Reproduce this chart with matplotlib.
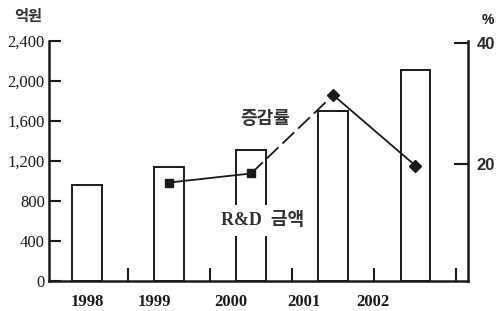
import numpy as np
import matplotlib.pyplot as plt

# data
years = ['1998', '1999', '2000', '2001', '2002']
rnd_amount = [965, 1145, 1315, 1700, 2110]          # 억원, bars
rate_years = [1, 2, 3, 4]                            # index into years
rate_pct = [17.0, 18.5, 31.4, 19.8]                  # %, line
left_ticks = [0, 400, 800, 1200, 1600, 2000, 2400]
right_ticks = [20, 40]

# year labels in the scan sit left of the bars
label_x = [0.0, 0.82, 1.755, 2.64, 3.48]

ink = '#1a1a1a'
serif = 'Liberation Serif'
kr = ['Noto Sans CJK KR', 'DejaVu Sans']

fig = plt.figure(figsize=(4.99, 3.11), dpi=100)
ax = fig.add_axes([49 / 499, 30 / 311, 419 / 499, 240 / 311])
x = np.arange(len(years))

ax.bar(x, rnd_amount, width=0.36, facecolor='white', edgecolor=ink, linewidth=1.4, zorder=2)
ax.set_xlim(-0.462, 4.642)
ax.set_ylim(0, 2400)

ax.set_yticks(left_ticks)
ax.set_yticklabels([f'{v:,}' for v in left_ticks], fontfamily=serif, fontsize=12)
ax.tick_params(axis='y', direction='in', length=8.5, width=1.5, color=ink, pad=3, labelcolor=ink)

ax.set_xticks(label_x)
ax.set_xticklabels(years, fontfamily=serif, fontsize=12, fontweight='bold')
ax.tick_params(axis='x', which='major', length=0, pad=9, labelcolor=ink)
ax.set_xticks(x + 0.5, minor=True)
ax.tick_params(axis='x', which='minor', direction='in', length=9.5, width=1.5, color=ink)

for s in ['left', 'bottom']:
    ax.spines[s].set_linewidth(1.8)
    ax.spines[s].set_color(ink)
ax.spines['top'].set_visible(False)
ax.spines['right'].set_visible(False)

ax2 = ax.twinx()
ax2.set_ylim(0.8, 40.3)
ax2.set_yticks(right_ticks)
ax2.set_yticklabels([str(v) for v in right_ticks], fontfamily='Liberation Sans',
                    fontsize=12, fontweight='bold')
ax2.tick_params(axis='y', direction='in', length=10, width=1.5, color=ink, pad=6, labelcolor='#2a2a2a')
for s in ['left', 'top', 'bottom']:
    ax2.spines[s].set_visible(False)
ax2.spines['right'].set_linewidth(1.8)
ax2.spines['right'].set_color(ink)

rx = x[rate_years]
ax2.plot(rx[0:2], rate_pct[0:2], color=ink, lw=1.3, zorder=3)
ax2.plot(rx[1:3], rate_pct[1:3], color=ink, lw=1.3, ls=(0, (9, 3)), zorder=3)
ax2.plot(rx[2:4], rate_pct[2:4], color=ink, lw=1.3, zorder=3)
ax2.plot(rx[0:2], rate_pct[0:2], ls='none', marker='s', ms=6, color=ink, zorder=4)
ax2.plot(rx[2:4], rate_pct[2:4], ls='none', marker='D', ms=6, color=ink, zorder=4)

# series labels, white box breaks the bar outline like in the scan
ax2.text(2.17, 27.6, '증감률', fontfamily=kr, fontsize=13, fontweight='bold',
         color='#333333', ha='center', va='center')
ax2.text(2.14, 10.8, 'R&D  금액', fontfamily=[serif] + kr, fontsize=13, fontweight='bold',
         color='#333333', ha='center', va='center',
         bbox=dict(facecolor='white', edgecolor='none', pad=5), zorder=5)

fig.text(28 / 499, 1 - 16 / 311, '억원', fontfamily=kr, fontsize=11, fontweight='bold',
         color='#333333', ha='center', va='center')
fig.text(488 / 499, 1 - 20 / 311, '%', fontfamily='Liberation Sans', fontsize=10,
         fontweight='bold', color=ink, ha='center', va='center')

fig.savefig('out.png', dpi=100)
